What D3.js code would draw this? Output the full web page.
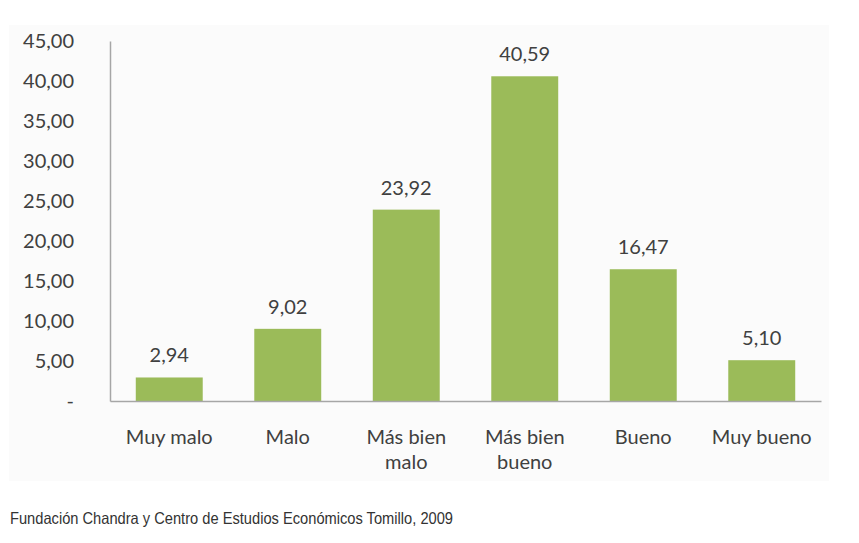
<!DOCTYPE html>
<html>
<head>
<meta charset="utf-8">
<script src="https://cdn.jsdelivr.net/npm/d3@7"></script>
<style>
  body { margin: 0; background: #fff; }
  svg { display: block; }
</style>
</head>
<body>
<svg id="chart" width="859" height="543"></svg>
<script>
var categories = ["Muy malo", "Malo", "Más bien\nmalo", "Más bien\nbueno", "Bueno", "Muy bueno"];
var values = [2.94, 9.02, 23.92, 40.59, 16.47, 5.10];
var yTicks = [0, 5, 10, 15, 20, 25, 30, 35, 40, 45];
const SOURCE = 'Fundación Chandra y Centro de Estudios Económicos Tomillo, 2009';

const FONT = 'Lato, "Open Sans", sans-serif';
const TEXT_COLOR = '#404040';
const AXIS_COLOR = '#a6a6a6';

const locale = d3.formatLocale({ decimal: ',', thousands: '.', grouping: [3], currency: ['', '€'] });
const fmt = locale.format('.2f');

const svg = d3.select('#chart');

// panel background
svg.append('rect')
  .attr('x', 9).attr('y', 25)
  .attr('width', 820).attr('height', 456)
  .attr('fill', '#fbfbfb');

const x = d3.scaleBand()
  .domain(categories)
  .range([110, 821])
  .paddingInner(0.435)
  .paddingOuter(0.2175);

const y = d3.scaleLinear()
  .domain([0, 45])
  .range([401, 41]);

// y axis
const yAxis = svg.append('g')
  .attr('transform', 'translate(110,0)')
  .call(d3.axisLeft(y).tickValues(yTicks).tickSize(0).tickSizeOuter(0).tickPadding(36)
    .tickFormat(d => d === 0 ? '-' : fmt(d)));
yAxis.select('.domain').attr('stroke', AXIS_COLOR).attr('stroke-width', 1.5);
yAxis.selectAll('text')
  .attr('font-family', FONT).attr('font-size', 20).attr('fill', TEXT_COLOR);

// bars
svg.append('g')
  .selectAll('rect')
  .data(values)
  .enter()
  .append('rect')
  .attr('x', (d, i) => x(categories[i]))
  .attr('y', d => y(d))
  .attr('width', x.bandwidth())
  .attr('height', d => y(0) - y(d))
  .attr('fill', '#9bbb59');

// x axis
const xAxis = svg.append('g')
  .attr('transform', 'translate(0,401)')
  .call(d3.axisBottom(x).tickSize(0).tickSizeOuter(0).tickFormat(''));
xAxis.select('.domain').attr('stroke', AXIS_COLOR).attr('stroke-width', 1.5);
xAxis.selectAll('.tick text').remove();
xAxis.selectAll('.tick')
  .append('text')
  .attr('font-family', FONT).attr('font-size', 20).attr('fill', TEXT_COLOR)
  .attr('text-anchor', 'middle')
  .selectAll('tspan')
  .data(d => d.split('\n'))
  .enter()
  .append('tspan')
  .attr('x', 0)
  .attr('y', (d, i) => 43 + i * 25)
  .text(d => d);

// value labels
svg.append('g')
  .selectAll('text')
  .data(values)
  .enter()
  .append('text')
  .attr('x', (d, i) => x(categories[i]) + x.bandwidth() / 2)
  .attr('y', d => y(d) - 15)
  .attr('text-anchor', 'middle')
  .attr('font-family', FONT).attr('font-size', 20).attr('fill', TEXT_COLOR)
  .text(d => fmt(d));

// source
svg.append('text')
  .attr('x', 10).attr('y', 524)
  .attr('font-family', '"Liberation Sans", Arial, sans-serif')
  .attr('font-size', 16.5).attr('fill', '#333')
  .attr('textLength', 443).attr('lengthAdjust', 'spacingAndGlyphs')
  .text(SOURCE);
</script>
</body>
</html>
